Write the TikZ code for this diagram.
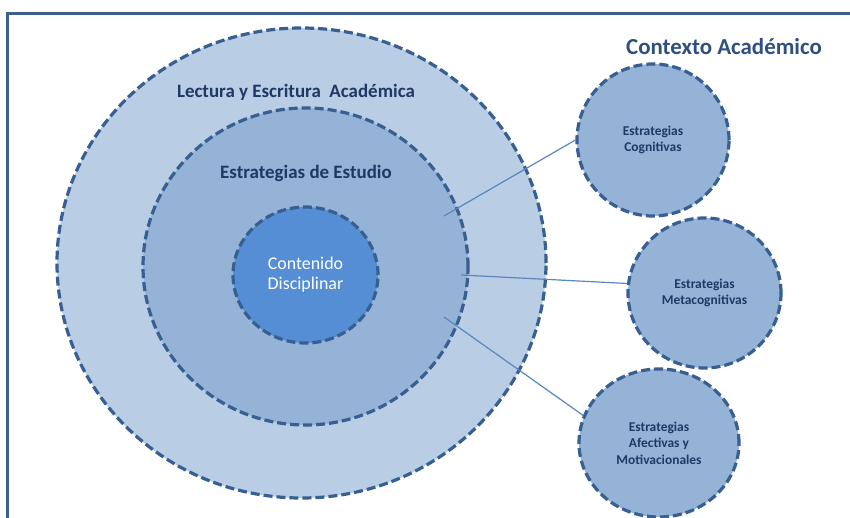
\documentclass[tikz,border=0pt]{standalone}
\usepackage{fontspec}
\setmainfont{Carlito}
\usepackage{xcolor}
\usetikzlibrary{shapes.geometric,positioning}

\definecolor{ringpale}{HTML}{B9CDE5}
\definecolor{ringmid}{HTML}{95B3D7}
\definecolor{ringcore}{HTML}{558ED5}
\definecolor{dashblue}{HTML}{375F91}
\definecolor{framblue}{HTML}{3C5F8F}
\definecolor{linkblue}{HTML}{5A86BF}
\definecolor{navytext}{HTML}{1F3864}
\definecolor{titletext}{HTML}{2E4F80}

\tikzset{
  ring/.style={ellipse, draw=dashblue, line width=3.2bp, dash pattern=on 9bp off 4bp, inner sep=0pt},
  strat/.style={ring, fill=ringmid, text=navytext, align=center, font=\bfseries\fontsize{13.5}{16.5}\selectfont},
  ringlabel/.style={text=navytext, font=\bfseries\fontsize{19}{22}\selectfont},
  link/.style={draw=linkblue, line width=1.2bp}
}

\begin{document}
\begin{tikzpicture}[x=1bp, y=-1bp]
    \useasboundingbox (0,0) rectangle (850,518);
    % frame
    \draw [framblue, line width=3bp] (7,518) -- (7,14) -- (850,14);

    % nested circles
    \node [ring, fill=ringpale, minimum width=489bp, minimum height=470bp] (outer) at (301.5,263) {};
    \node [ring, fill=ringmid, minimum width=325bp, minimum height=317bp] (study) at (305.5,266.5) {};
    \node [ring, fill=ringcore, minimum width=145bp, minimum height=136bp, text=white, align=center,
           font=\fontsize{18}{20}\selectfont] (content) at (305.5,275) {Contenido\\Disciplinar};

    \node [ringlabel] (lec) at (296,92) {Lectura y Escritura~ Académica};
    \node [ringlabel] (est) at (306,173) {Estrategias de Estudio};
    \node [text=titletext, font=\bfseries\fontsize{23}{27}\selectfont] (ctx) at (724,47) {Contexto Académico};

    % strategies
    \node [strat, minimum width=152bp, minimum height=152bp] (cog) at (653,140) {Estrategias\\Cognitivas};
    \node [strat, minimum width=153bp, minimum height=150bp] (meta) at (704.5,293) {Estrategias\\Metacognitivas};
    \node [strat, minimum width=160bp, minimum height=148bp] (afe) at (659,443) {Estrategias\\Afectivas y\\Motivacionales};

    % links
    \coordinate (s1) at (444,216);
    \coordinate (s2) at (461,275);
    \coordinate (s3) at (444,317);
    \draw [link] (s1) -- (cog.west);
    \draw [link] (s2) -- (meta.173);
    \draw [link] (s3) -- (afe.160);
\end{tikzpicture}
\end{document}
